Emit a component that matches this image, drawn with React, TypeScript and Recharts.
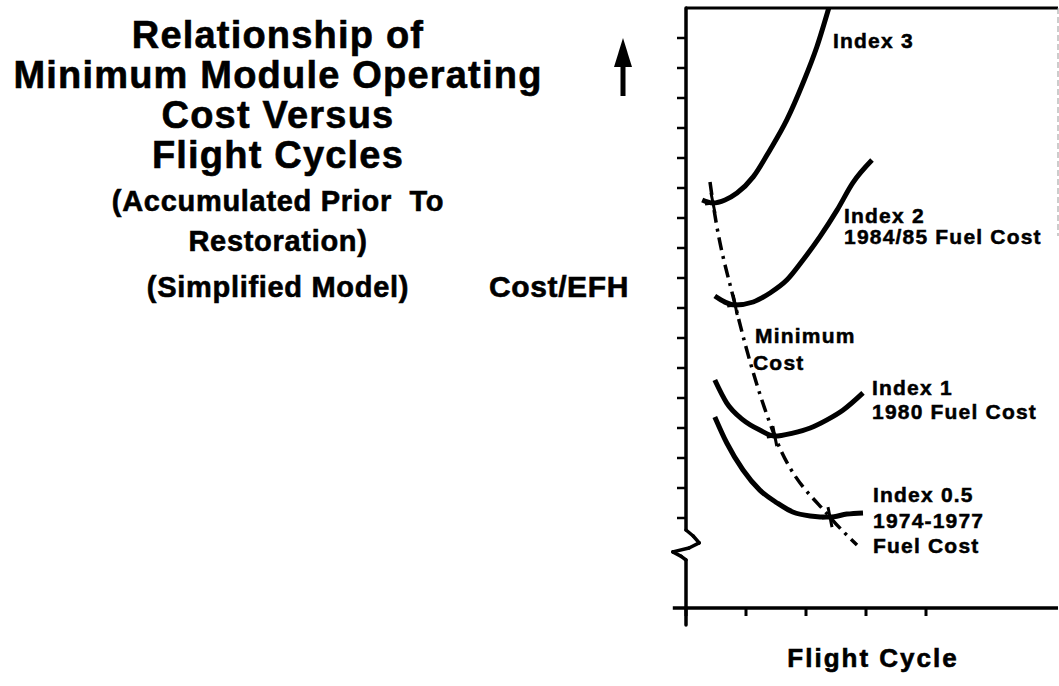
import { ComposedChart, Line, Scatter, XAxis, YAxis, ReferenceLine } from "recharts";

const FONT = '"Liberation Sans", Arial, Helvetica, sans-serif';

// x = flight cycles, y = cost/EFH (both in grid units, no scale printed)
const index3 = [
  { x: 0.27, y: 13.6 },
  { x: 0.45, y: 13.5 },
  { x: 0.65, y: 13.6 },
  { x: 0.85, y: 13.83 },
  { x: 1.12, y: 14.37 },
  { x: 1.4, y: 15.27 },
  { x: 1.68, y: 16.27 },
  { x: 1.95, y: 17.5 },
  { x: 2.18, y: 18.7 },
  { x: 2.38, y: 20 },
];

const index2 = [
  { x: 0.48, y: 10.4 },
  { x: 0.82, y: 10.1 },
  { x: 1.12, y: 10.2 },
  { x: 1.4, y: 10.5 },
  { x: 1.68, y: 10.93 },
  { x: 1.95, y: 11.6 },
  { x: 2.23, y: 12.37 },
  { x: 2.52, y: 13.27 },
  { x: 2.78, y: 14.17 },
  { x: 3.1, y: 14.93 },
];

const index1 = [
  { x: 0.48, y: 7.6 },
  { x: 0.68, y: 6.83 },
  { x: 0.95, y: 6.27 },
  { x: 1.23, y: 5.93 },
  { x: 1.48, y: 5.73 },
  { x: 1.78, y: 5.83 },
  { x: 2.07, y: 6.0 },
  { x: 2.35, y: 6.27 },
  { x: 2.62, y: 6.6 },
  { x: 2.95, y: 7.17 },
];

const index05 = [
  { x: 0.48, y: 6.37 },
  { x: 0.68, y: 5.5 },
  { x: 0.95, y: 4.6 },
  { x: 1.23, y: 3.93 },
  { x: 1.52, y: 3.5 },
  { x: 1.78, y: 3.2 },
  { x: 2.07, y: 3.07 },
  { x: 2.4, y: 3.03 },
  { x: 2.68, y: 3.13 },
  { x: 2.95, y: 3.17 },
];

const minimumCost = [
  { x: 0.4, y: 14.2 },
  { x: 0.45, y: 13.5 },
  { x: 0.82, y: 10.1 },
  { x: 1.48, y: 5.73 },
  { x: 2.4, y: 3.03 },
  { x: 2.85, y: 2.1 },
];

const minimumPoints = [
  { x: 0.45, y: 13.5 },
  { x: 0.82, y: 10.1 },
  { x: 1.48, y: 5.73 },
  { x: 2.4, y: 3.03 },
];

const xTicks = [0, 1, 2, 3, 4];
const yTicks = [3, 4, 5, 6, 7, 8, 9, 10, 11, 12, 13, 14, 15, 16, 17, 18, 19];

// y axis with the break (zig-zag) near the bottom
const yAxisPath = [
  { x: 0, y: 20 },
  { x: 0, y: 2.6 },
  { x: 0.12, y: 2.4 },
  { x: 0.22, y: 2.17 },
  { x: 0.05, y: 2.0 },
  { x: -0.22, y: 1.87 },
  { x: -0.08, y: 1.72 },
  { x: 0, y: 1.6 },
  { x: 0, y: -0.57 },
];

const titleLines = ["Relationship of", "Minimum Module Operating", "Cost Versus", "Flight Cycles"];
const subLines = ["(Accumulated Prior  To", "Restoration)"];

function CrossMark(props: any) {
  const { cx, cy } = props;
  if (cx == null || cy == null) return null;
  return (
    <g stroke="#000" strokeWidth={3}>
      <line x1={cx - 2} y1={cy - 10} x2={cx + 2} y2={cy + 10} />
      <line x1={cx - 8} y1={cy + 1} x2={cx + 8} y2={cy - 1} />
    </g>
  );
}

// tick lines only, no tick labels
const NoLabel = () => <g />;

const curve = { type: "monotone" as const, dataKey: "y", stroke: "#000", strokeWidth: 5, dot: false, isAnimationActive: false };

export default function App() {
  const labelStyle = { fontFamily: FONT, fontWeight: 700, fontSize: 21, letterSpacing: 1.2 };
  return (
    <div style={{ position: "absolute", left: 0, top: 0, width: 1059, height: 686, background: "#fff" }}>
      <ComposedChart width={1059} height={686} margin={{ top: 8, right: 1, left: 676, bottom: 58 }}>
        <XAxis
          type="number"
          dataKey="x"
          domain={[0, 6.2]}
          ticks={xTicks}
          tick={NoLabel}
          tickSize={8}
          height={20}
          axisLine={false}
          tickLine={{ stroke: "#000", strokeWidth: 3 }}
        />
        <YAxis
          type="number"
          domain={[0, 20]}
          ticks={yTicks}
          tick={NoLabel}
          tickSize={9}
          width={10}
          axisLine={false}
          tickLine={{ stroke: "#000", strokeWidth: 2.5 }}
          allowDataOverflow
        />
        <ReferenceLine y={20} stroke="#000" strokeWidth={3} />
        <ReferenceLine
          segment={[{ x: 6.2, y: 20 }, { x: 6.2, y: 12.4 }]}
          stroke="#999"
          strokeWidth={1}
          strokeDasharray="6 3"
          ifOverflow="visible"
        />
        <ReferenceLine
          segment={[{ x: -0.22, y: 0 }, { x: 6.2, y: 0 }]}
          stroke="#000"
          strokeWidth={3.5}
          ifOverflow="visible"
        />
        {yAxisPath.slice(1).map((p, i) => (
          <ReferenceLine
            key={i}
            segment={[yAxisPath[i], p]}
            stroke="#000"
            strokeWidth={3.5}
            strokeLinecap="round"
            ifOverflow="visible"
          />
        ))}
        <Line {...curve} data={index3} />
        <Line {...curve} data={index2} />
        <Line {...curve} data={index1} />
        <Line {...curve} data={index05} />
        <Line
          type="monotone"
          dataKey="y"
          data={minimumCost}
          stroke="#000"
          strokeWidth={3.5}
          strokeDasharray="13 6 3 6"
          dot={false}
          isAnimationActive={false}
        />
        <Scatter data={minimumPoints} dataKey="y" shape={<CrossMark />} isAnimationActive={false} />
      </ComposedChart>

      <svg
        width={1059}
        height={686}
        style={{ position: "absolute", left: 0, top: 0, pointerEvents: "none" }}
      >
        <g fontFamily={FONT} fontWeight={700} fill="#000" stroke="#000" strokeWidth={0.6} textAnchor="middle">
          {titleLines.map((t, i) => (
            <text key={t} x={278} y={48 + i * 40} fontSize={38} letterSpacing={1.2}>
              {t}
            </text>
          ))}
          {subLines.map((t, i) => (
            <text key={t} x={278} y={211 + i * 40} fontSize={29} letterSpacing={0.7} style={{ whiteSpace: "pre" }}>
              {t}
            </text>
          ))}
          <text x={278} y={297} fontSize={29} letterSpacing={0.7}>
            (Simplified Model)
          </text>
          <text x={559} y={297} fontSize={30} letterSpacing={0.6}>
            Cost/EFH
          </text>
          <text x={873} y={667} fontSize={26} letterSpacing={2}>
            Flight Cycle
          </text>
        </g>
        <polygon points="623,38 614,67 632,67" fill="#000" />
        <rect x={620.5} y={60} width={5} height={36} fill="#000" />
        <g style={labelStyle} fill="#000" stroke="#000" strokeWidth={0.5}>
          <text x={833} y={48}>Index 3</text>
          <text x={844} y={223}>Index 2</text>
          <text x={844} y={244}>1984/85 Fuel Cost</text>
          <text x={755} y={343}>Minimum</text>
          <text x={753} y={370}>Cost</text>
          <text x={872} y={395}>Index 1</text>
          <text x={872} y={419}>1980 Fuel Cost</text>
          <text x={873} y={502}>Index 0.5</text>
          <text x={873} y={528}>1974-1977</text>
          <text x={873} y={553}>Fuel Cost</text>
        </g>
      </svg>
    </div>
  );
}
